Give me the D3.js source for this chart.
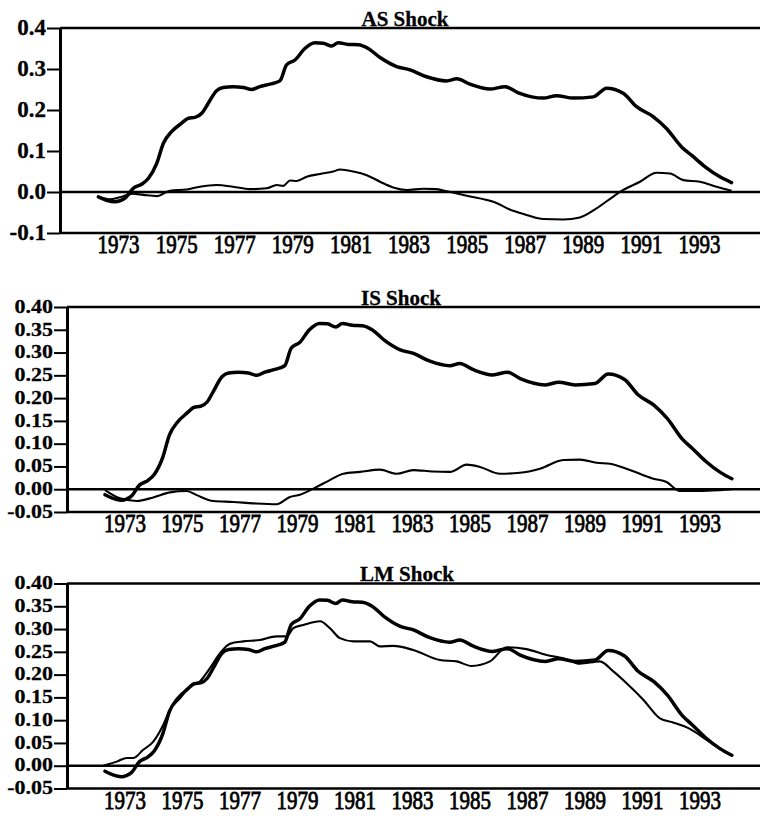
<!DOCTYPE html>
<html>
<head>
<meta charset="utf-8">
<script src="https://cdn.jsdelivr.net/npm/d3@7"></script>
<style>
  html, body { margin: 0; padding: 0; background: #fff; }
  svg { display: block; }
</style>
</head>
<body>
<svg id="chart" width="760" height="816"></svg>
<script>
// ---------------- DATA ----------------
const panelTitles = ["AS Shock", "IS Shock", "LM Shock"];
const yearTicks = [1973, 1975, 1977, 1979, 1981, 1983, 1985, 1987, 1989, 1991, 1993];
const yearLabels = ["1973", "1975", "1977", "1979", "1981", "1983", "1985", "1987", "1989", "1991", "1993"];

const yTicksA = [0.4, 0.3, 0.2, 0.1, 0.0, -0.1];
const yLabelsA = ["0.4", "0.3", "0.2", "0.1", "0.0", "-0.1"];
const yTicksB = [0.40, 0.35, 0.30, 0.25, 0.20, 0.15, 0.10, 0.05, 0.00, -0.05];
const yLabelsB = ["0.40", "0.35", "0.30", "0.25", "0.20", "0.15", "0.10", "0.05", "0.00", "-0.05"];

// thick line (common to all panels)
const baseYears = [1972.32, 1972.6, 1972.89, 1973.24, 1973.52, 1973.81, 1974.04, 1974.33, 1974.56, 1974.84, 1975.19, 1975.42, 1975.65, 1975.88, 1976.1, 1976.39, 1976.62, 1976.96, 1977.31, 1977.6, 1977.88, 1978.23, 1978.57, 1978.8, 1979.09, 1979.43, 1979.78, 1980.06, 1980.35, 1980.58, 1980.92, 1981.27, 1981.61, 1982.02, 1982.59, 1983.05, 1983.62, 1984.31, 1984.66, 1985.11, 1985.8, 1986.32, 1986.78, 1987.64, 1988.1, 1988.67, 1989.36, 1989.82, 1990.39, 1990.85, 1991.42, 1991.88, 1992.4, 1992.74, 1993.2, 1993.72, 1994.12];
const baseVals = [-0.012, -0.02, -0.024, -0.015, 0.009, 0.019, 0.033, 0.07, 0.119, 0.147, 0.168, 0.18, 0.182, 0.192, 0.216, 0.247, 0.255, 0.257, 0.255, 0.25, 0.257, 0.263, 0.271, 0.31, 0.322, 0.35, 0.364, 0.363, 0.356, 0.364, 0.36, 0.359, 0.35, 0.328, 0.306, 0.298, 0.281, 0.271, 0.276, 0.263, 0.251, 0.257, 0.242, 0.229, 0.235, 0.229, 0.232, 0.253, 0.241, 0.208, 0.184, 0.155, 0.11, 0.09, 0.062, 0.037, 0.023];

// thin line, AS shock
const asYears = [1972.32, 1972.7, 1973.1, 1973.5, 1973.87, 1974.33, 1974.79, 1975.36, 1975.82, 1976.39, 1976.96, 1977.54, 1978.11, 1978.46, 1978.69, 1978.92, 1979.15, 1979.49, 1979.95, 1980.41, 1980.64, 1981.1, 1981.56, 1982.02, 1982.47, 1982.93, 1983.5, 1983.97, 1984.31, 1985.0, 1985.92, 1986.6, 1987.06, 1987.64, 1988.33, 1988.9, 1989.47, 1990.05, 1990.39, 1990.97, 1991.54, 1992.0, 1992.46, 1993.03, 1993.6, 1994.12];
const asVals = [-0.011, -0.018, -0.012, -0.004, -0.007, -0.01, 0.003, 0.006, 0.013, 0.017, 0.013, 0.007, 0.009, 0.017, 0.015, 0.028, 0.027, 0.037, 0.044, 0.05, 0.055, 0.05, 0.041, 0.025, 0.011, 0.005, 0.008, 0.007, 0.002, -0.009, -0.024, -0.046, -0.056, -0.066, -0.067, -0.062, -0.04, -0.011, 0.005, 0.025, 0.047, 0.045, 0.029, 0.025, 0.013, 0.003];

// thin line, IS shock
const isYears = [1972.32, 1972.84, 1973.42, 1974.0, 1974.58, 1975.16, 1975.51, 1976.09, 1976.78, 1977.48, 1978.29, 1978.75, 1979.1, 1979.68, 1980.14, 1980.61, 1981.19, 1981.88, 1982.46, 1983.04, 1983.7, 1984.32, 1984.9, 1985.36, 1986.06, 1986.75, 1987.45, 1988.26, 1988.84, 1989.42, 1989.88, 1990.58, 1991.39, 1991.85, 1992.31, 1993.01, 1993.71, 1994.12];
const isVals = [-0.002, -0.02, -0.026, -0.018, -0.007, -0.004, -0.013, -0.026, -0.028, -0.031, -0.033, -0.017, -0.012, 0.005, 0.02, 0.034, 0.038, 0.043, 0.034, 0.042, 0.039, 0.038, 0.054, 0.049, 0.034, 0.036, 0.045, 0.064, 0.065, 0.058, 0.056, 0.042, 0.023, 0.016, -0.004, -0.004, -0.002, 0.0];

// thin line, LM shock
const lmYears = [1972.26, 1972.73, 1973.08, 1973.31, 1973.65, 1974.0, 1974.35, 1974.58, 1974.93, 1975.28, 1975.62, 1975.97, 1976.32, 1976.67, 1977.13, 1977.71, 1978.29, 1978.64, 1978.87, 1979.22, 1979.8, 1980.14, 1980.49, 1980.96, 1981.54, 1981.88, 1982.35, 1983.04, 1983.97, 1984.55, 1985.07, 1985.71, 1986.29, 1986.98, 1987.68, 1988.26, 1988.84, 1989.53, 1990.0, 1990.46, 1991.04, 1991.62, 1992.08, 1992.66, 1993.24, 1994.05];
const lmVals = [0.0, 0.009, 0.017, 0.017, 0.035, 0.053, 0.09, 0.123, 0.148, 0.174, 0.185, 0.214, 0.247, 0.268, 0.273, 0.276, 0.284, 0.284, 0.302, 0.309, 0.317, 0.302, 0.28, 0.273, 0.273, 0.262, 0.263, 0.254, 0.232, 0.229, 0.219, 0.229, 0.26, 0.256, 0.243, 0.236, 0.224, 0.229, 0.207, 0.181, 0.145, 0.104, 0.095, 0.081, 0.057, 0.024];

// ---------------- LAYOUT ----------------
const FONT = "'Liberation Serif', 'Times New Roman', Times, serif";
const panels = [
  { title: panelTitles[0], titleX: 405, left: 60, top: 28, bottom: 233, yDom: [-0.1, 0.4],
    ticks: yTicksA, labels: yLabelsA, yFont: 23, yScaleY: 1.0, thinX: asYears, thinY: asVals },
  { title: panelTitles[1], titleX: 401, left: 67, top: 307, bottom: 512, yDom: [-0.05, 0.40],
    ticks: yTicksB, labels: yLabelsB, yFont: 22, yScaleY: 0.85, thinX: isYears, thinY: isVals },
  { title: panelTitles[2], titleX: 407, left: 67, top: 583.5, bottom: 788.5, yDom: [-0.05, 0.40],
    ticks: yTicksB, labels: yLabelsB, yFont: 22, yScaleY: 0.85, thinX: lmYears, thinY: lmVals }
];
const RIGHT = 760;
const xDom = [1971, 1995.1];

const svg = d3.select("#chart");

panels.forEach(p => {
  const x = d3.scaleLinear().domain(xDom).range([p.left, RIGHT]);
  const y = d3.scaleLinear().domain(p.yDom).range([p.bottom, p.top]);
  const g = svg.append("g");

  // left axis with outward ticks
  const yAxis = d3.axisLeft(y).tickValues(p.ticks)
    .tickFormat((d, i) => p.labels[i]).tickSize(13).tickSizeOuter(0).tickPadding(1);
  const ya = g.append("g").attr("transform", `translate(${p.left},0)`).call(yAxis);
  ya.select(".domain").attr("stroke", "#000").attr("stroke-width", 3);
  ya.selectAll(".tick line").attr("stroke", "#000").attr("stroke-width", 2);
  ya.selectAll(".tick text")
    .attr("font-family", FONT).attr("font-size", p.yFont).attr("font-weight", "bold")
    .attr("fill", "#000").attr("stroke", "#000").attr("stroke-width", 0.3)
    .attr("dy", "0.28em")
    .attr("transform", `scale(1,${p.yScaleY})`);

  // top frame, bottom axis and zero line
  [p.yDom[1], p.yDom[0], 0].forEach(v => {
    g.append("line").attr("x1", p.left).attr("x2", RIGHT)
      .attr("y1", y(v)).attr("y2", y(v))
      .attr("stroke", "#000").attr("stroke-width", 2.5);
  });

  // bottom year labels
  const xAxis = d3.axisBottom(x).tickValues(yearTicks)
    .tickFormat((d, i) => yearLabels[i]).tickSize(0).tickSizeOuter(0);
  const xa = g.append("g").attr("transform", `translate(0,${p.bottom})`).call(xAxis);
  xa.select(".domain").remove();
  xa.selectAll(".tick text")
    .attr("font-family", FONT).attr("font-size", 21).attr("fill", "#000")
    .attr("stroke", "#000").attr("stroke-width", 0.7)
    .attr("y", 0).attr("dy", 0)
    .attr("transform", "translate(0,20) scale(1,1.2)");

  // title
  g.append("text").attr("x", p.titleX).attr("y", p.top - 2.5)
    .attr("text-anchor", "middle").attr("font-family", FONT)
    .attr("font-size", 21).attr("font-weight", "bold").attr("fill", "#000")
    .attr("stroke", "#000").attr("stroke-width", 0.3)
    .text(p.title);

  const line = d3.line().x(d => x(d[0])).y(d => y(d[1])).curve(d3.curveMonotoneX);

  // thin line
  g.append("path").datum(p.thinX.map((t, i) => [t, p.thinY[i]]))
    .attr("d", line).attr("fill", "none").attr("stroke", "#000")
    .attr("stroke-width", 2.1).attr("stroke-linejoin", "round");

  // thick line
  g.append("path").datum(baseYears.map((t, i) => [t, baseVals[i]]))
    .attr("d", line).attr("fill", "none").attr("stroke", "#000")
    .attr("stroke-width", 3.5).attr("stroke-linejoin", "round").attr("stroke-linecap", "round");
});
</script>
</body>
</html>
